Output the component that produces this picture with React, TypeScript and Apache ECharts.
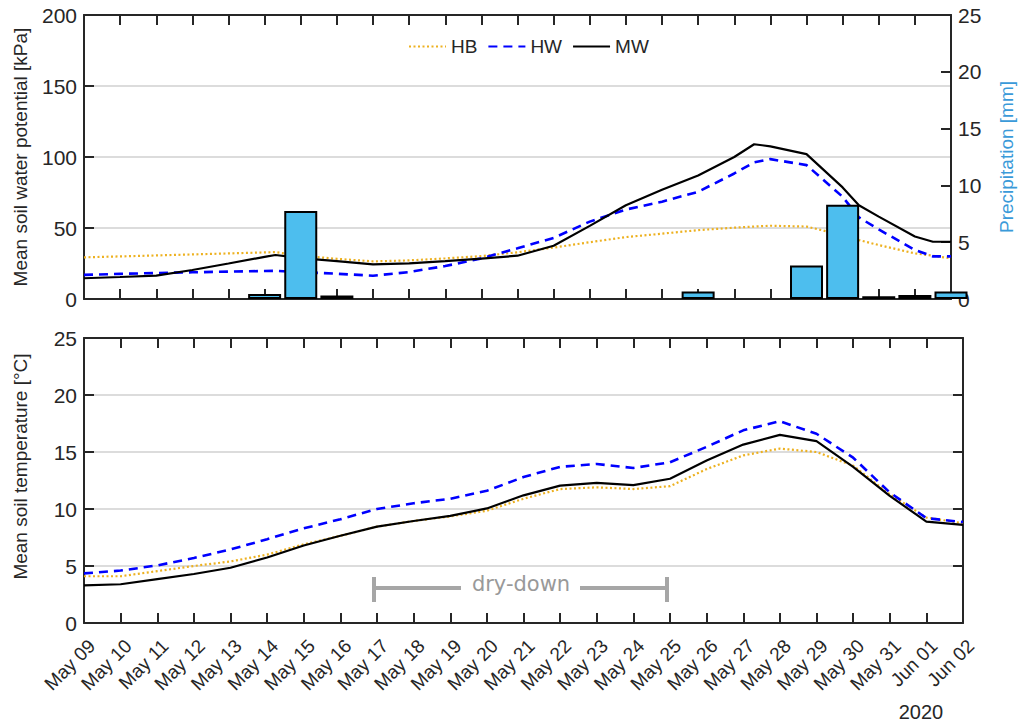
import { useEffect, useRef } from "react";
import * as echarts from "echarts";

// Day labels for the shared daily time axis (index 0 = May 09)
const dayLabels = [
  "May 09", "May 10", "May 11", "May 12", "May 13", "May 14", "May 15", "May 16",
  "May 17", "May 18", "May 19", "May 20", "May 21", "May 22", "May 23", "May 24",
  "May 25", "May 26", "May 27", "May 28", "May 29", "May 30", "May 31", "Jun 01", "Jun 02",
];

// Soil water potential [kPa], sampled on day offsets from May 09
const potentialDays = [0, 1, 2, 3, 4, 5, 5.3, 6, 7, 8, 9, 10, 11, 12, 13, 14, 15, 16, 17, 18, 18.55, 19, 20, 21, 21.45, 22, 23, 23.5, 24];
const potentialHB = [29.3, 30, 30.7, 31.4, 32.1, 32.8, 33, 30.5, 28.3, 26.5, 27.2, 28.6, 30.2, 32.9, 36.2, 40, 43.6, 46, 48.5, 50.2, 51, 51.6, 51, 45, 41.5, 38, 32.1, 30.5, 28.6];
const potentialHW = [17, 17.7, 18.3, 18.8, 19.3, 19.7, 19.8, 19, 17.8, 16.4, 19, 23.2, 28.6, 35.7, 43, 54.5, 63, 68.5, 75.5, 88.4, 96.2, 98.5, 94.3, 72, 57.5, 49, 34.5, 30, 30];
const potentialMW = [14.6, 15.5, 16.5, 20.4, 25, 29.7, 31, 28.8, 26.7, 24.4, 25.1, 26.7, 28.4, 30.5, 37.5, 51.5, 66, 77, 87, 100, 109, 107.5, 102, 78.6, 66, 58, 44, 40.3, 40.3];

// Daily precipitation [mm]
const precipDays = [5, 6, 7, 17, 20, 21, 22, 23, 24];
const precipMm = [0.45, 7.75, 0.3, 0.65, 2.95, 8.3, 0.25, 0.35, 0.65];

// Soil temperature [°C], daily
const tempDays = [0, 1, 2, 3, 4, 5, 6, 7, 8, 9, 10, 11, 12, 13, 14, 15, 16, 17, 18, 19, 20, 21, 22, 23, 24];
const tempHB = [4.1, 4.1, 4.55, 5.0, 5.4, 6.0, 6.9, 7.65, 8.45, 8.95, 9.35, 9.85, 10.9, 11.75, 11.9, 11.75, 12.0, 13.5, 14.7, 15.3, 15.0, 13.8, 11.3, 9.25, 8.75];
const tempHW = [4.35, 4.6, 5.05, 5.7, 6.45, 7.35, 8.3, 9.1, 10.0, 10.5, 10.9, 11.6, 12.8, 13.7, 13.95, 13.6, 14.1, 15.45, 16.9, 17.7, 16.6, 14.5, 11.45, 9.2, 8.85];
const tempMW = [3.3, 3.4, 3.85, 4.3, 4.85, 5.75, 6.8, 7.65, 8.45, 8.95, 9.4, 10.05, 11.2, 12.05, 12.3, 12.1, 12.65, 14.25, 15.65, 16.5, 15.95, 13.7, 11.15, 8.9, 8.6];

// Axis ranges
const DAY_MAX = 24;
const POTENTIAL_MAX = 200;
const POTENTIAL_STEP = 50;
const PRECIP_MAX = 25;
const PRECIP_STEP = 5;
const TEMP_MAX = 25;
const TEMP_STEP = 5;

const pairs = (xs: number[], ys: number[]) => xs.map((x, i) => [x, ys[i]]);

const AXIS = "#262626";
const GRID = "#dcdcdc";
const FONT = "Liberation Sans, Arial, sans-serif";

const lineStyles: Record<string, any> = {
  HB: { color: "#EDB120", width: 2.2, type: [2, 2.5] },
  HW: { color: "#0000FF", width: 2.6, type: [9, 6] },
  MW: { color: "#000000", width: 2.2, type: "solid" },
};

function lineSeries(name: string, xIdx: number, yIdx: number, data: number[][]) {
  return {
    name,
    type: "line",
    xAxisIndex: xIdx,
    yAxisIndex: yIdx,
    data,
    symbol: "none",
    showSymbol: false,
    color: lineStyles[name].color,
    lineStyle: lineStyles[name],
    z: 2,
  };
}

// Inward ticks on every side of both panels
const tick = { show: true, inside: true, length: 10, lineStyle: { color: AXIS, width: 2 } };

function xAxis(gridIndex: number, position: "top" | "bottom", labels: boolean) {
  return {
    type: "value",
    gridIndex,
    position,
    min: 0,
    max: DAY_MAX,
    interval: 1,
    axisLine: { show: true, onZero: false, lineStyle: { color: AXIS, width: 2 } },
    axisTick: tick,
    splitLine: { show: false },
    axisLabel: labels
      ? {
          show: true,
          rotate: 45,
          verticalAlign: "top",
          lineHeight: 22,
          margin: 12,
          fontSize: 19,
          fontFamily: FONT,
          color: AXIS,
          showMinLabel: true,
          showMaxLabel: true,
          hideOverlap: false,
          formatter: (v: number) => dayLabels[Math.round(v)] ?? "",
        }
      : { show: false },
  };
}

function yAxis(
  gridIndex: number,
  position: "left" | "right",
  max: number,
  interval: number,
  opts: { labels: boolean; split: boolean; name?: string; nameColor?: string; nameGap?: number; namePad?: number[] }
) {
  return {
    type: "value",
    gridIndex,
    position,
    min: 0,
    max,
    interval,
    axisLine: { show: true, onZero: false, lineStyle: { color: AXIS, width: 2 } },
    axisTick: tick,
    splitLine: { show: opts.split, lineStyle: { color: GRID, width: 2 } },
    axisLabel: {
      show: opts.labels,
      fontSize: 21,
      fontFamily: FONT,
      color: AXIS,
      margin: 7,
      showMinLabel: true,
      showMaxLabel: true,
    },
    name: opts.name,
    nameLocation: "middle",
    nameGap: opts.nameGap ?? 54,
    nameTextStyle: {
      fontSize: 19,
      fontFamily: FONT,
      color: opts.nameColor ?? AXIS,
      padding: opts.namePad ?? [0, 0, 0, 0],
    },
  };
}

const BRACKET = "#a6a6a6";

const annotations: any[] = [
  // dry-down period bracket
  { type: "line", shape: { x1: 374, y1: 588, x2: 461, y2: 588 }, style: { stroke: BRACKET, lineWidth: 4 } },
  { type: "line", shape: { x1: 580, y1: 588, x2: 667, y2: 588 }, style: { stroke: BRACKET, lineWidth: 4 } },
  { type: "line", shape: { x1: 374, y1: 577, x2: 374, y2: 602 }, style: { stroke: BRACKET, lineWidth: 4 } },
  { type: "line", shape: { x1: 667, y1: 577, x2: 667, y2: 602 }, style: { stroke: BRACKET, lineWidth: 4 } },
  {
    type: "text",
    x: 521,
    y: 584,
    style: {
      text: "dry-down",
      fill: "#999999",
      fontSize: 21,
      fontFamily: "DejaVu Sans, sans-serif",
      align: "center",
      verticalAlign: "middle",
    },
  },
  // year under the date axis
  {
    type: "text",
    x: 921,
    y: 712,
    style: {
      text: "2020",
      fill: AXIS,
      fontSize: 20,
      fontFamily: FONT,
      align: "center",
      verticalAlign: "middle",
    },
  },
];

export default function App() {
  const ref = useRef<HTMLDivElement>(null);

  useEffect(() => {
    if (!ref.current) return;
    const chart = echarts.init(ref.current, null, { renderer: "svg" });

    const option: any = {
      animation: false,
      backgroundColor: "#ffffff",
      textStyle: { fontFamily: FONT },
      grid: [
        { left: 84, top: 15, width: 879, height: 284 },
        { left: 84, top: 338, width: 879, height: 285 },
      ],
      legend: {
        data: ["HB", "HW", "MW"],
        left: 403,
        top: 32,
        itemWidth: 37,
        itemHeight: 14,
        itemGap: 10,
        selectedMode: false,
        itemStyle: { opacity: 0 },
        textStyle: { fontSize: 19, fontFamily: FONT, color: AXIS },
      },
      xAxis: [
        xAxis(0, "bottom", false),
        xAxis(0, "top", false),
        xAxis(1, "bottom", true),
        xAxis(1, "top", false),
      ],
      yAxis: [
        yAxis(0, "left", POTENTIAL_MAX, POTENTIAL_STEP, { labels: true, split: true, name: "Mean soil water potential [kPa]" }),
        yAxis(0, "right", PRECIP_MAX, PRECIP_STEP, {
          labels: true,
          split: false,
          name: "Precipitation [mm]",
          nameColor: "#3a9ad9",
          nameGap: 46,
        }),
        yAxis(1, "left", TEMP_MAX, TEMP_STEP, {
          labels: true,
          split: true,
          name: "Mean soil temperature [°C]",
          namePad: [0, 0, 0, 28],
        }),
        yAxis(1, "right", TEMP_MAX, TEMP_STEP, { labels: false, split: false }),
      ],
      series: [
        lineSeries("HB", 0, 0, pairs(potentialDays, potentialHB)),
        lineSeries("HW", 0, 0, pairs(potentialDays, potentialHW)),
        lineSeries("MW", 0, 0, pairs(potentialDays, potentialMW)),
        {
          name: "Precipitation",
          type: "bar",
          xAxisIndex: 0,
          yAxisIndex: 1,
          data: pairs(precipDays, precipMm),
          barWidth: 33,
          clip: true,
          itemStyle: { color: "#4DBEEE", borderColor: "#000000", borderWidth: 2 },
          z: 3,
        },
        lineSeries("HB", 2, 2, pairs(tempDays, tempHB)),
        lineSeries("HW", 2, 2, pairs(tempDays, tempHW)),
        lineSeries("MW", 2, 2, pairs(tempDays, tempMW)),
      ],
      graphic: annotations,
    };

    chart.setOption(option);
    return () => chart.dispose();
  }, []);

  return (
    <div
      ref={ref}
      style={{ position: "fixed", left: 0, top: 0, width: 1024, height: 724, background: "#fff" }}
    />
  );
}
